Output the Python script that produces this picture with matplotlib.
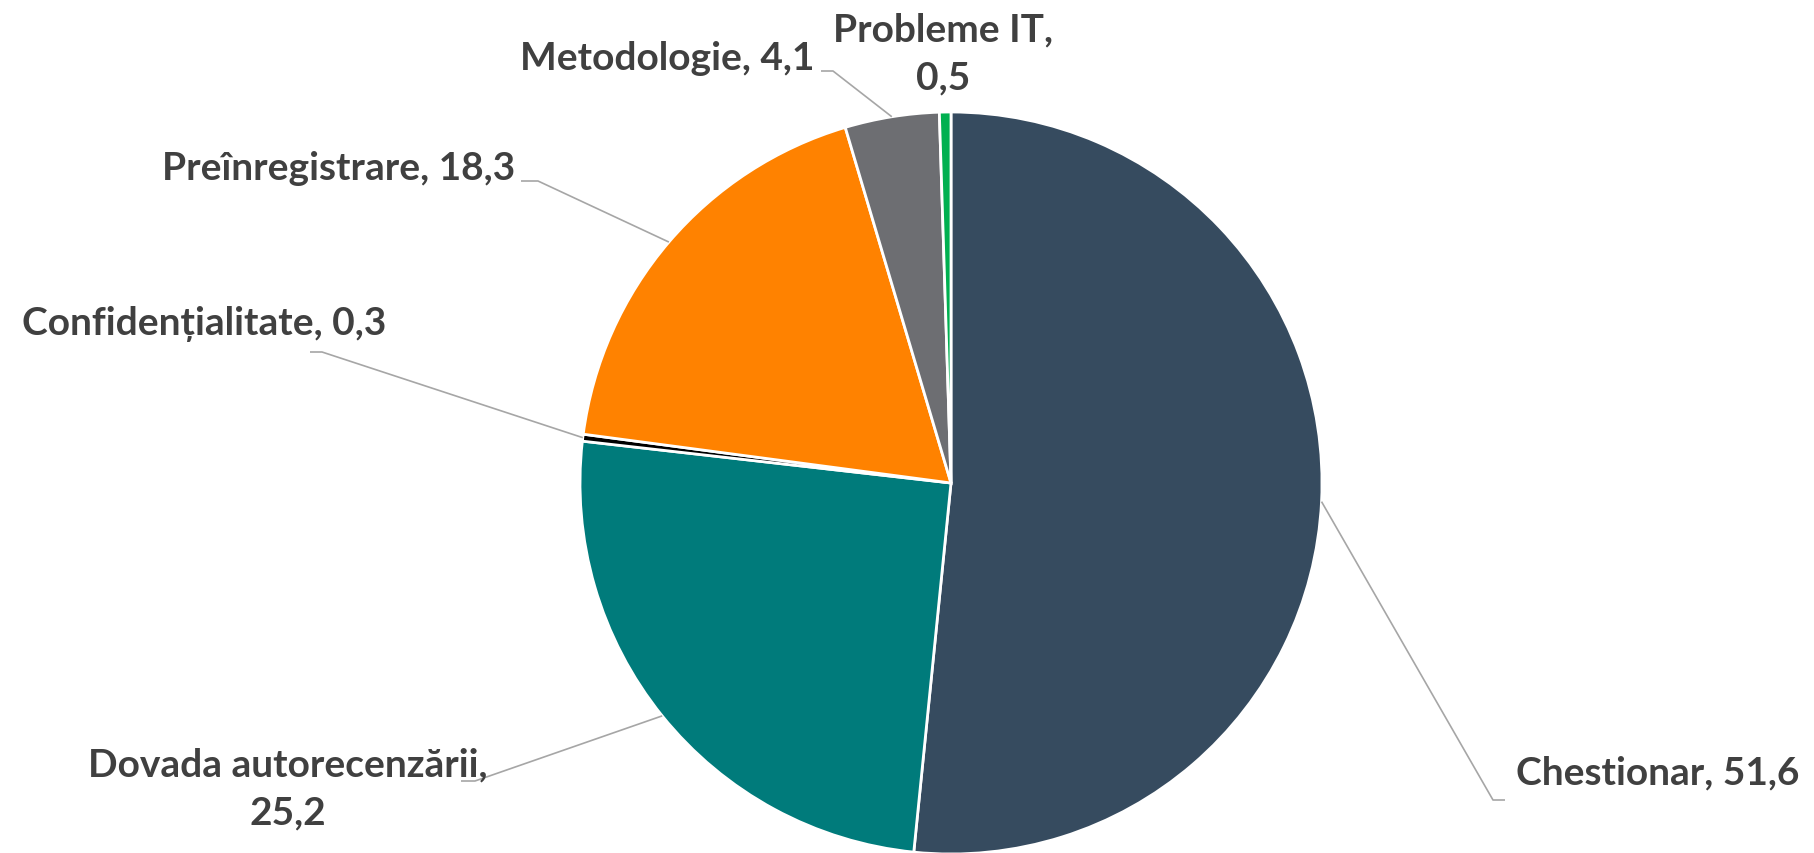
import numpy as np
import matplotlib
matplotlib.use("Agg")
import matplotlib.pyplot as plt

plt.rcParams['font.family'] = ['Lato', 'DejaVu Sans']

# data
categories = ["Chestionar", "Dovada autorecenzării", "Confidențialitate",
              "Preînregistrare", "Metodologie", "Probleme IT"]
values = [51.6, 25.2, 0.3, 18.3, 4.1, 0.5]
colors = ["#364B5F", "#007B7B", "#000000", "#FF8200", "#6D6E72", "#00B050"]

# layout, in pixels from the top left corner
W, H = 1815, 854
cx, cy, r = 951, 484, 371

# text anchor (x, y), ha, line break after name, elbow points
labelLayout = {
    "Chestionar": ((1516, 773), "left", False, [(1493, 801), (1505, 801)]),
    "Dovada autorecenzării": ((288, 789), "center", True, [(475, 782), (461, 782)]),
    "Confidențialitate": ((386, 324), "right", False, [(322, 353), (310, 353)]),
    "Preînregistrare": ((515, 168), "right", False, [(538, 182), (521, 182)]),
    "Metodologie": ((814, 58), "right", False, [(833, 72), (821, 72)]),
    "Probleme IT": ((943, 54), "center", True, []),
}

fig = plt.figure(figsize=(W / 100, H / 100), dpi=100)
ax = fig.add_axes([0, 0, 1, 1])
wedges, _ = ax.pie(values, colors=colors, startangle=90, counterclock=False,
                   center=(cx, H - cy), radius=r,
                   wedgeprops=dict(edgecolor="white", linewidth=2))
ax.set_xlim(0, W)
ax.set_ylim(0, H)
ax.set_aspect("equal")
ax.axis("off")

textColor = "#404040"
lineColor = "#A6A6A6"

for w, name, val in zip(wedges, categories, values):
    (tx, ty), ha, twoLines, elbow = labelLayout[name]
    valTxt = ("%.1f" % val).replace(".", ",")
    sep = ",\n" if twoLines else ", "
    ax.text(tx, H - ty, name + sep + valTxt, ha=ha, va="center",
            multialignment="center", fontsize=28, fontweight="bold",
            color=textColor, linespacing=1.45)
    if elbow:
        mid = np.deg2rad((w.theta1 + w.theta2) / 2)
        ex = cx + r * np.cos(mid)
        ey = (H - cy) + r * np.sin(mid)
        xs = [ex] + [p[0] for p in elbow]
        ys = [ey] + [H - p[1] for p in elbow]
        ax.plot(xs, ys, color=lineColor, lw=1.2, solid_capstyle="butt")

fig.savefig("out.png", dpi=100)
